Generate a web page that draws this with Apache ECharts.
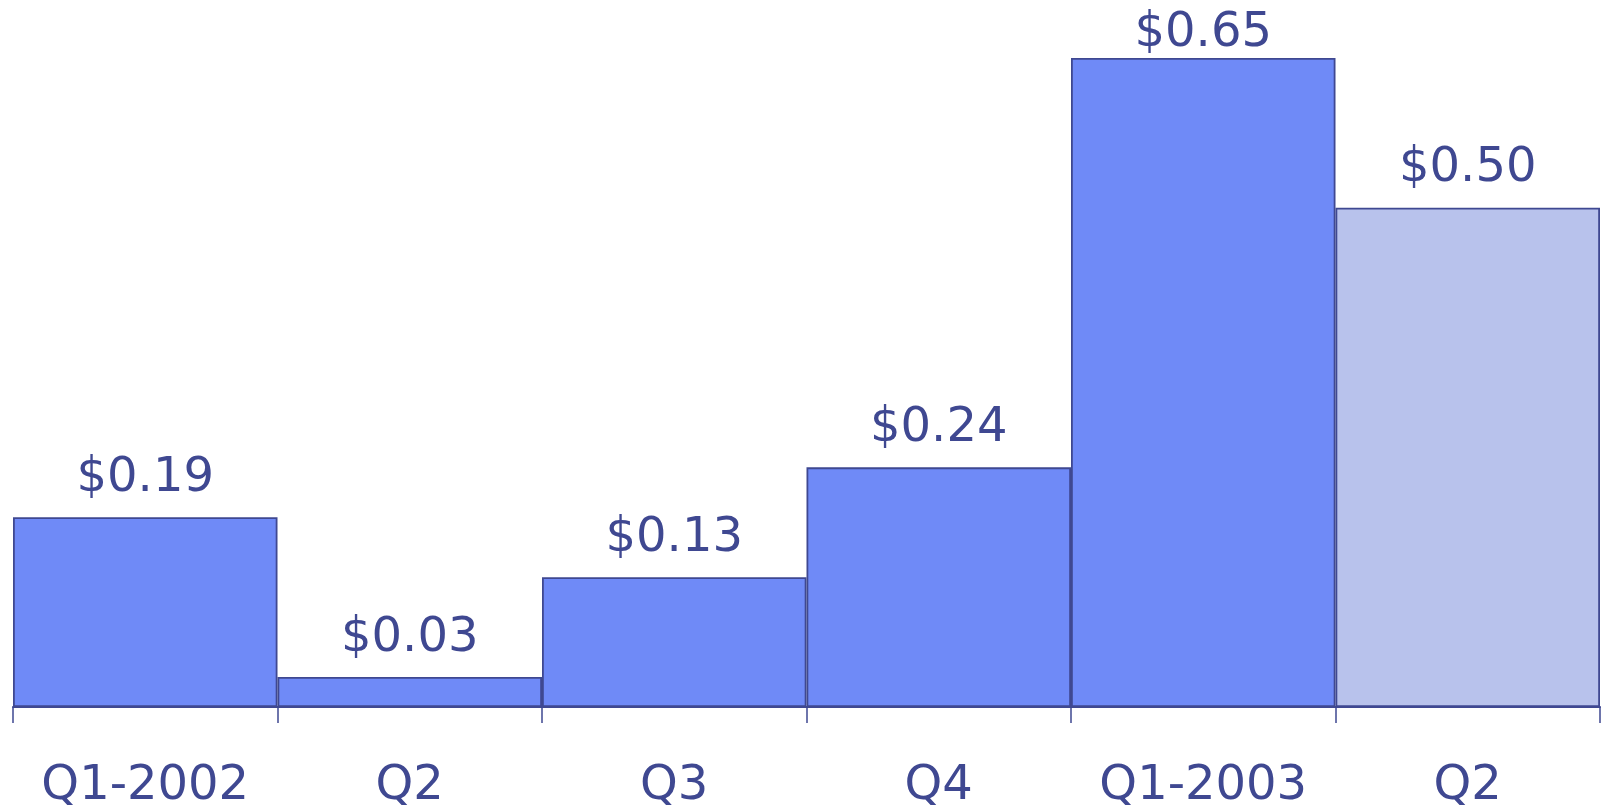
<!DOCTYPE html>
<html>
<head>
<meta charset="utf-8">
<style>
  html, body { margin: 0; padding: 0; background: #fff; }
  #chart { width: 1606px; height: 808px; }
</style>
<script src="https://cdn.jsdelivr.net/npm/echarts@6/dist/echarts.min.js"></script>
</head>
<body>
<div id="chart"></div>
<script>
const quarters = ['Q1-2002', 'Q2', 'Q3', 'Q4', 'Q1-2003', 'Q2'];
const eps = [0.19, 0.03, 0.13, 0.24, 0.65, 0.50];

const INK = '#3f4891';
const BAR = '#6f8af7';
const BAR_LAST = '#b8c2ec';
const topValue = Math.max(...eps);

// the tallest bar's label sits nearer its bar so it stays inside the canvas
const barData = eps.map(v => v === topValue ? { value: v, label: { offset: [0, 15] } } : v);

const chart = echarts.init(document.getElementById('chart'), null, { renderer: 'canvas' });
chart.setOption({
    animation: false,
    grid: { left: 13, right: 6, top: 58, bottom: 101, outerBoundsMode: 'none' },
    xAxis: {
        type: 'category',
        data: quarters,
        axisLine: { lineStyle: { color: INK, width: 2 } },
        axisTick: { show: true, length: 16, lineStyle: { color: INK, width: 1.5 } },
        axisLabel: {
            interval: 0,
            color: INK,
            fontFamily: 'DejaVu Sans',
            fontSize: 48,
            margin: 56
        }
    },
    yAxis: {
        type: 'value',
        min: 0,
        max: 0.65,
        show: false,
        splitLine: { show: false }
    },
    series: [{
        type: 'bar',
        data: barData,
        barCategoryGap: 0,
        itemStyle: {
            color: p => (p.dataIndex === eps.length - 1 ? BAR_LAST : BAR),
            borderColor: INK,
            borderWidth: 1.8
        },
        label: {
            show: true,
            position: 'top',
            distance: 15,
            color: INK,
            fontFamily: 'DejaVu Sans',
            fontSize: 48,
            formatter: p => '$' + p.value.toFixed(2)
        }
    }]
});
</script>
</body>
</html>
